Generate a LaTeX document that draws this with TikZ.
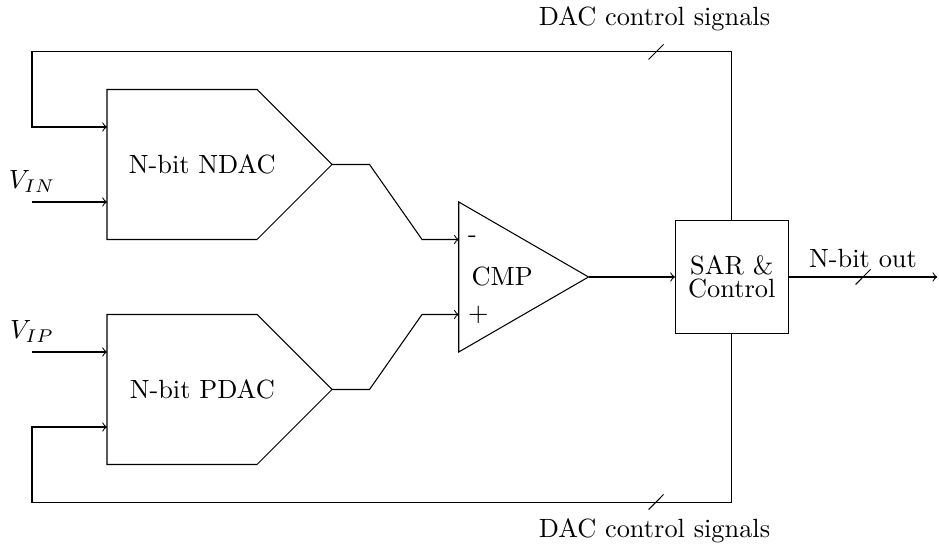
\documentclass[tikz,border=0pt]{standalone}
\usepackage{amsmath}
\usetikzlibrary{positioning}

\begin{document}
\begin{tikzpicture}
  \tikzstyle{block}=[draw,minimum size=1.5cm,inner sep=0pt,align=center]
  \tikzstyle{bus}=[-]
  \useasboundingbox (-1.427,-3.547) rectangle (11.093,3.693);

  % DAC outlines
  \draw (0,0.5) -- (0,2.5) -- (2,2.5) -- (3,1.5) coordinate (ndac out) -- (2,0.5) -- cycle;
  \draw (0,-2.5) -- (0,-0.5) -- (2,-0.5) -- (3,-1.5) coordinate (pdac out) -- (2,-2.5) -- cycle;
  \node (ndac) at (1.27,1.5) {N-bit NDAC};
  \node (pdac) at (1.27,-1.5) {N-bit PDAC};

  \coordinate (ndac fb) at (0,2);
  \coordinate (ndac in) at (0,1);
  \coordinate (pdac in) at (0,-1);
  \coordinate (pdac fb) at (0,-2);
  \coordinate (vin) at (-1,1);
  \coordinate (vip) at (-1,-1);

  % comparator
  \draw (4.69,1) -- (6.42,0) coordinate (cmp out) -- (4.69,-1) -- cycle;
  \coordinate (cmp minus) at (4.69,0.5);
  \coordinate (cmp plus) at (4.69,-0.5);
  \node (cmp) at (5.27,0) {CMP};
  \node[right] at (cmp minus) {-};
  \node[right] at (cmp plus) {$+$};

  \node[block] (sar) at (8.33,0) {SAR \&\\[-3.5pt]Control};
  \coordinate (out) at (11.07,0);

  % inputs
  \draw[->] (vin) node[above] {$V_{IN}$} -- (ndac in);
  \draw[->] (vip) node[above] {$V_{IP}$} -- (pdac in);

  % DAC outputs to comparator
  \draw[->] (ndac out) -- ++(0.5,0) -- (4.2,0.5) -- (cmp minus);
  \draw[->] (pdac out) -- ++(0.5,0) -- (4.2,-0.5) -- (cmp plus);
  \draw[->] (cmp out) -- (sar.west);

  % output bus
  \draw[->] (sar.east) -- (out);
  \draw (9.98,-0.1) -- (10.18,0.1);
  \node[above] at (10.08,0) {N-bit out};

  % feedback loops
  \draw[->] (sar.north) -- ++(0,2.25) -| (-1,2) -- (ndac fb);
  \draw[->] (sar.south) -- ++(0,-2.25) -| (-1,-2) -- (pdac fb);
  \draw (7.22,2.9) -- (7.42,3.1);
  \draw (7.22,-3.1) -- (7.42,-2.9);
  \node[above] at (7.3,3.15) {DAC control signals};
  \node[below] at (7.3,-3.1) {DAC control signals};

\end{tikzpicture}
\end{document}
